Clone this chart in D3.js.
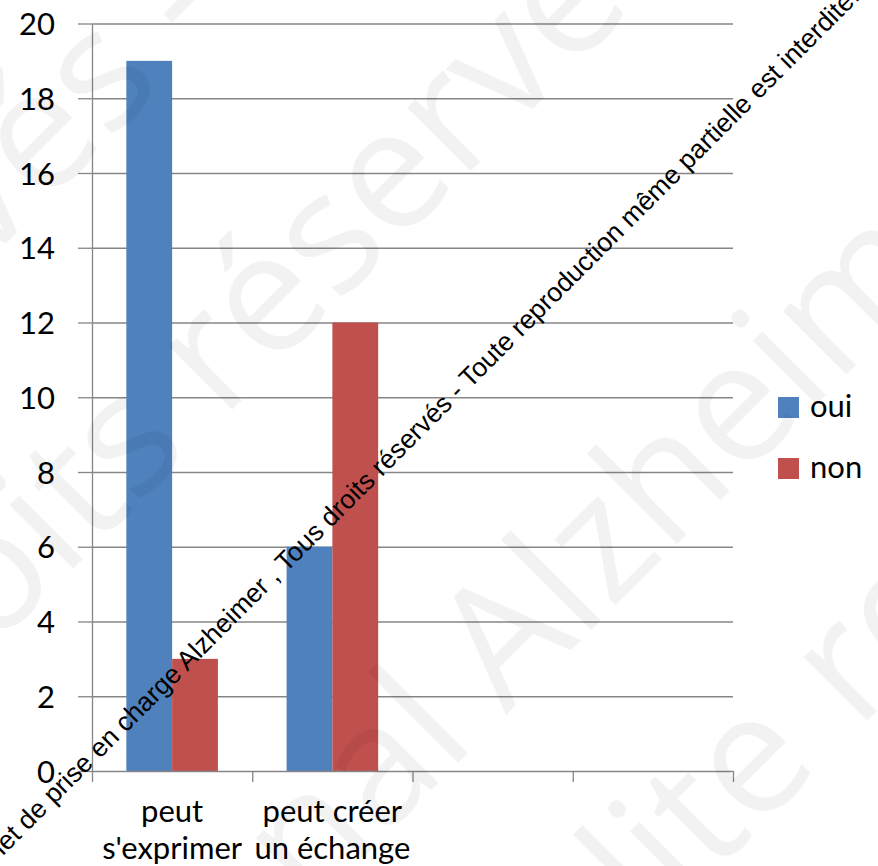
<!DOCTYPE html>
<html><head><meta charset="utf-8">
<script src="https://cdn.jsdelivr.net/npm/d3@7"></script>
<style>
html,body{margin:0;padding:0;background:#fff;}
svg{display:block;}
</style>
</head><body>
<svg id="chart" width="878" height="866"></svg>
<script>
// ---- data ----
const categories = ["cat1", "cat2", "cat3", "cat4"];
const categoryLabels = [["peut", "s'exprimer"], ["peut créer", "un échange"], [], []];
const seriesNames = ["oui", "non"];
const ouiValues = [19, 6, null, null];
const nonValues = [3, 12, null, null];
const yTicks = [0, 2, 4, 6, 8, 10, 12, 14, 16, 18, 20];
const seriesColors = ["#4F81BD", "#C0504D"];
const watermarkPrefix = "Plan d'action ";
const watermarkText = "et de prise en charge Alzheimer , Tous droits réservés - Toute reproduction même partielle est interdite.";

(function () {
const svg = d3.select("#chart");
const mLeft = 92, mRight = 733, mTop = 23.5, mBottom = 771;

const x = d3.scaleBand().domain(categories).range([mLeft, mRight]).paddingInner(0).paddingOuter(0);
const xs = d3.scaleBand().domain(seriesNames).range([0, x.bandwidth()]).paddingInner(0).paddingOuter(0.75);
const xEdges = d3.scaleLinear().domain([0, categories.length]).range([mLeft, mRight]);
const y = d3.scaleLinear().domain([0, 20]).range([mBottom, mTop]);

const axisColor = "#868686";
const font = "Lato, 'Open Sans', sans-serif";
const wmFont = "Arial, 'Liberation Sans', Helvetica, sans-serif";

// gridlines
const grid = svg.append("g").attr("transform", `translate(${mLeft},0)`)
  .call(d3.axisLeft(y).tickValues(yTicks.filter(d => d > 0)).tickSize(-(mRight - mLeft)).tickFormat(""));
grid.select(".domain").remove();
grid.selectAll("line").attr("stroke", axisColor).attr("stroke-width", 1.3);

// y axis
const yAxis = svg.append("g").attr("transform", `translate(${mLeft},0)`)
  .call(d3.axisLeft(y).tickValues(yTicks).tickSize(14).tickSizeOuter(0).tickPadding(23));
yAxis.select(".domain").attr("stroke", axisColor).attr("stroke-width", 1.3);
yAxis.selectAll("line").attr("stroke", axisColor).attr("stroke-width", 1.3);
yAxis.selectAll("text").attr("font-family", font).attr("font-size", 31).attr("fill", "#000").attr("dy", "0.36em");

// bars
const seriesData = [ouiValues, nonValues];
seriesNames.forEach((s, si) => {
  svg.append("g").selectAll("rect")
    .data(categories.map((c, i) => ({c, v: seriesData[si][i]})).filter(d => d.v != null))
    .join("rect")
    .attr("x", d => x(d.c) + xs(s))
    .attr("width", xs.bandwidth())
    .attr("y", d => y(d.v))
    .attr("height", d => y(0) - y(d.v))
    .attr("fill", seriesColors[si]);
});

// x axis
const xAxis = svg.append("g").attr("transform", `translate(0,${mBottom})`)
  .call(d3.axisBottom(xEdges).tickValues(d3.range(categories.length + 1)).tickSize(11).tickSizeOuter(0).tickFormat(""));
xAxis.select(".domain").attr("stroke", axisColor).attr("stroke-width", 1.3);
xAxis.selectAll("line").attr("stroke", axisColor).attr("stroke-width", 1.3);

// category labels
const catG = svg.append("g");
categories.forEach((c, i) => {
  const t = catG.append("text")
    .attr("x", x(c) + x.bandwidth() / 2)
    .attr("text-anchor", "middle")
    .attr("font-family", font).attr("font-size", 31).attr("fill", "#000");
  categoryLabels[i].forEach((ln, li) => {
    t.append("tspan").attr("x", x(c) + x.bandwidth() / 2).attr("y", 822 + li * 37).text(ln);
  });
});

// legend
const lg = svg.append("g").attr("transform", "translate(778,397)");
seriesNames.forEach((s, i) => {
  const g = lg.append("g").attr("transform", `translate(0,${i * 61})`);
  g.append("rect").attr("width", 21).attr("height", 21).attr("fill", seriesColors[i]);
  g.append("text").attr("x", 32).attr("y", 20).attr("font-family", font).attr("font-size", 31).attr("fill", "#000").text(s);
});

// faint large background watermark
const faint = svg.append("g").attr("font-family", "'Open Sans', sans-serif").attr("font-size", 168)
  .attr("fill", "#000").attr("fill-opacity", 0.05);
const faintPieces = [
  {t: "réservés", x: 165, y: 85, a: "end"},
  {t: "- Toute", x: 195, y: 55, a: "start"},
  {t: "droits", x: 192, y: 450, a: "end"},
  {t: "réservés", x: 222, y: 420, a: "start"},
  {t: "national", x: 478, y: 743, a: "end"},
  {t: "Alzheimer", x: 506, y: 715, a: "start"},
  {t: "interdite", x: 822, y: 766, a: "end"},
  {t: "reproduction", x: 857, y: 731, a: "start"}
];
faintPieces.forEach(p => {
  faint.append("text").attr("transform", `translate(${p.x},${p.y}) rotate(-45)`)
    .attr("text-anchor", p.a).text(p.t);
});

// diagonal watermark line: size so the visible sentence spans the diagonal
const tmp = svg.append("text").attr("font-family", wmFont).attr("font-size", 100).text(watermarkText);
const w100 = tmp.node().getComputedTextLength();
tmp.remove();
const wmSize = 100 * 1208 / w100;
const wm = svg.append("g").attr("transform", "translate(7,852) rotate(-45)")
  .attr("font-family", wmFont).attr("font-size", wmSize).attr("fill", "#000");
wm.append("text").attr("text-anchor", "start").text(watermarkText);
wm.append("text").attr("text-anchor", "end").text(watermarkPrefix);
})();
</script>
</body></html>
